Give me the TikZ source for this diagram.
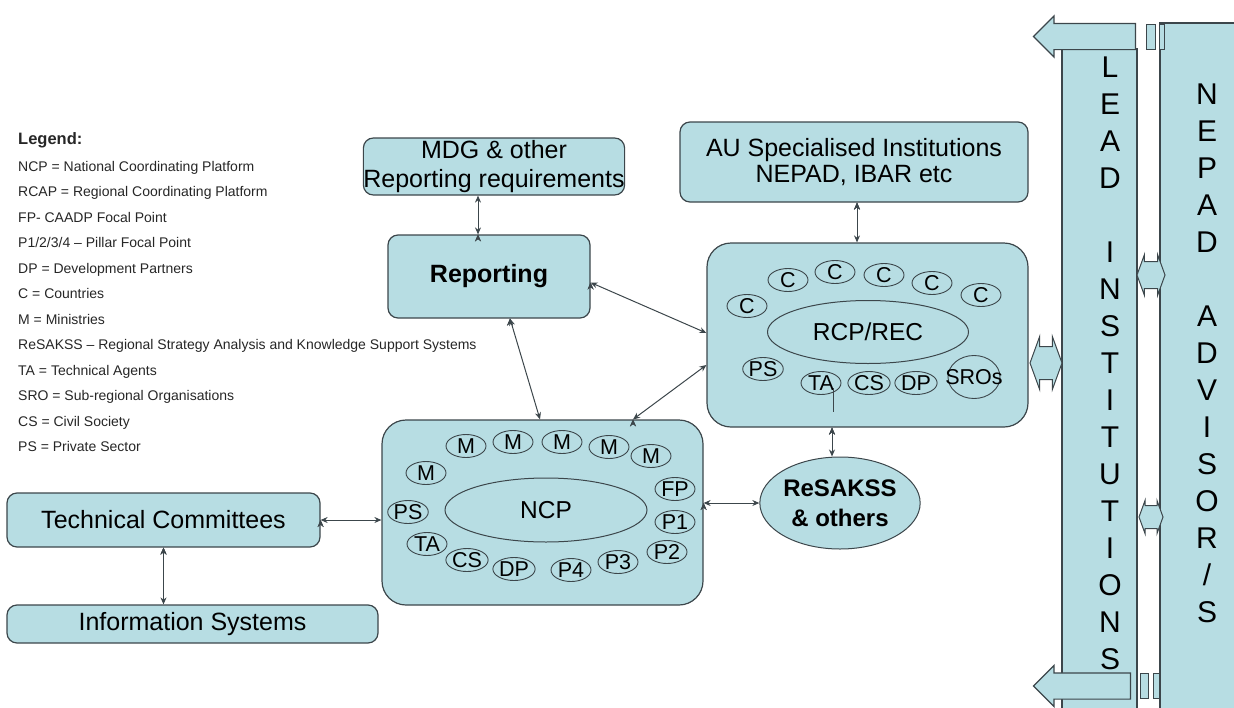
\documentclass[tikz,border=0pt]{standalone}
\usepackage{fontspec}
\setmainfont{Liberation Sans}
\usetikzlibrary{shapes.geometric,shapes.arrows,arrows.meta}
\definecolor{paleblue}{RGB}{183,221,227}
\definecolor{edgegray}{RGB}{60,70,75}

\begin{document}
\begin{tikzpicture}[x=1pt,y=-1pt]
\tikzstyle{box_style} = [draw=edgegray, line width=1.2pt, fill=paleblue, rounded corners=10pt, inner sep=0pt, font=\fontsize{25}{29}\selectfont, align=center]
\tikzstyle{hub_style} = [box_style, rounded corners=24pt]
\tikzstyle{core_style} = [draw=edgegray, line width=1pt, ellipse, fill=paleblue, inner sep=0pt, font=\fontsize{24.5}{30}\selectfont]
\tikzstyle{tok_style} = [draw=edgegray, line width=0.9pt, ellipse, inner sep=0pt, minimum width=40pt, minimum height=23pt, font=\fontsize{21.5}{23}\selectfont]
\tikzstyle{link_style} = [edgegray, line width=1pt, {Stealth[length=7pt,width=6pt]}-{Stealth[length=7pt,width=6pt]}]
\tikzstyle{legend_style} = [anchor=base west, inner sep=0pt, font=\fontsize{14}{16}\selectfont, text=black!85]
\tikzstyle{col_style} = [draw=edgegray, line width=1.2pt, fill=paleblue, inner sep=0pt]
\tikzstyle{letter_style} = [inner sep=0pt, align=center, font=\fontsize{30}{37}\selectfont]
\tikzstyle{blk_arrow} = [single arrow, shape border rotate=180, draw=edgegray, fill=paleblue, line width=1.2pt, inner xsep=0pt, inner ysep=12.5pt, single arrow head extend=7.5pt, single arrow head indent=0pt]
\tikzstyle{stripe_style} = [draw=edgegray, line width=1pt, fill=paleblue, inner sep=0pt, minimum height=25pt]
\tikzstyle{dbl_style} = [double arrow, draw=edgegray, fill=paleblue, line width=1pt, inner xsep=0pt, inner ysep=13pt, double arrow tip angle=140, double arrow head extend=7pt]
    \useasboundingbox (0,0) rectangle (1234,707);
    \clip (0,0) rectangle (1234,707);

    % legend
    \node[legend_style, font=\bfseries\fontsize{16.5}{18}\selectfont] (legtitle) at (18,144) {Legend:};
    \node[legend_style] (leg1) at (18,171) {NCP = National Coordinating Platform};
    \node[legend_style] (leg2) at (18,196.5) {RCAP = Regional Coordinating Platform};
    \node[legend_style] (leg3) at (18,222) {FP- CAADP Focal Point};
    \node[legend_style] (leg4) at (18,247.5) {P1/2/3/4 – Pillar Focal Point};
    \node[legend_style] (leg5) at (18,273) {DP = Development Partners};
    \node[legend_style] (leg6) at (18,298.5) {C = Countries};
    \node[legend_style] (leg7) at (18,324) {M = Ministries};
    \node[legend_style] (leg8) at (18,349.5) {ReSAKSS – Regional Strategy Analysis and Knowledge Support Systems};
    \node[legend_style] (leg9) at (18,375) {TA = Technical Agents};
    \node[legend_style] (leg10) at (18,400.5) {SRO = Sub-regional Organisations};
    \node[legend_style] (leg11) at (18,426) {CS = Civil Society};
    \node[legend_style] (leg12) at (18,451.5) {PS = Private Sector};

    % plain boxes
    \node[box_style, minimum width=258pt, minimum height=57pt] (mdg) at (494,166.5) {MDG \& other\\Reporting requirements};
    \node[box_style, minimum width=202pt, minimum height=83pt, font=\bfseries\fontsize{25}{29}\selectfont] (rep) at (489,276.5) {Reporting};
    \node[box_style, minimum width=348pt, minimum height=80pt, font=\fontsize{25}{26}\selectfont] (au) at (854,162) {AU Specialised Institutions\\NEPAD, IBAR etc};
    \node[box_style, minimum width=313pt, minimum height=54pt] (tc) at (163.5,520) {Technical Committees};
    \node[box_style, minimum width=371pt, minimum height=38pt] (info) at (192.5,624) {Information Systems};

    % regional platform
    \node[hub_style, minimum width=321pt, minimum height=184pt] (rcp) at (867.5,335) {};
    \node[core_style, minimum width=201pt, minimum height=63pt] (rcpcore) at (868,332) {RCP/REC};
    \node[tok_style] (rc1) at (747,306) {C};
    \node[tok_style] (rc2) at (788,280) {C};
    \node[tok_style] (rc3) at (835,272) {C};
    \node[tok_style] (rc4) at (884,275) {C};
    \node[tok_style] (rc5) at (932,283) {C};
    \node[tok_style] (rc6) at (981,295) {C};
    \node[tok_style] (rps) at (763,369) {PS};
    \node[tok_style] (rta) at (821,383) {TA};
    \node[tok_style] (rcs) at (869,383) {CS};
    \node[tok_style] (rdp) at (916,383) {DP};
    \node[tok_style, minimum width=52pt, minimum height=43pt, label={[font=\fontsize{21.5}{23}\selectfont]center:SROs}] (rsro) at (974,377) {};
    \coordinate (tatop) at (833,388);
    \coordinate (tatail) at (833,412);
    \draw[edgegray, line width=1pt] (tatop) -- (tatail);

    % national platform
    \node[hub_style, minimum width=321pt, minimum height=185pt] (ncp) at (542.5,512.5) {};
    \node[core_style, minimum width=202pt, minimum height=64pt] (ncpcore) at (546,510) {NCP};
    \node[tok_style] (m1) at (426,473) {M};
    \node[tok_style] (m2) at (466,446) {M};
    \node[tok_style] (m3) at (513,442) {M};
    \node[tok_style] (m4) at (562,442) {M};
    \node[tok_style] (m5) at (609,447) {M};
    \node[tok_style] (m6) at (651,456) {M};
    \node[tok_style] (fp) at (675,489) {FP};
    \node[tok_style] (p1) at (675,522) {P1};
    \node[tok_style] (p2) at (667,552) {P2};
    \node[tok_style] (p3) at (618,562) {P3};
    \node[tok_style] (p4) at (571,570) {P4};
    \node[tok_style] (ndp) at (514,569) {DP};
    \node[tok_style] (ncs) at (467,560) {CS};
    \node[tok_style] (nta) at (427,544) {TA};
    \node[tok_style] (nps) at (408,512) {PS};

    \node[core_style, minimum width=156pt, minimum height=92pt, align=center, font=\bfseries\fontsize{24}{30}\selectfont] (res) at (840,503) {ReSAKSS\\\& others};

    \draw[link_style] (tc.south) edge (tc.south |- info.north);
    \draw[link_style] (tc.east) edge (tc.east -| ncp.west);
    \draw[link_style] ([xshift=-11pt]rep.north) edge ([xshift=-16pt]mdg.south);
    \draw[link_style] ([xshift=21pt]rep.south) edge ([xshift=-2.5pt]ncp.north);
    \draw[link_style] ([yshift=-6pt]rep.east) edge ([yshift=2pt]rcp.west);
    \draw[link_style] ([xshift=90.5pt]ncp.north) edge ([yshift=-30pt]rcp.west);
    \draw[link_style] ([xshift=3pt]au.south) edge ([xshift=-10.5pt]rcp.north);
    \draw[link_style] ([xshift=-35.5pt]rcp.south) edge ([xshift=-8pt]res.north);
    \draw[link_style] ([yshift=9.5pt]ncp.east) edge (res.west);

    % side columns
    \node[col_style, minimum width=75pt, minimum height=670pt] (leadcol) at (1099.5,384) {};
    \node[col_style, minimum width=80pt, minimum height=700pt] (nepadcol) at (1200,373) {};
    \node[letter_style] (leadtxt) at (1110,363) {L\\E\\A\\D\\[37pt]I\\N\\S\\T\\I\\T\\U\\T\\I\\O\\N\\S};
    \node[letter_style] (nepadtxt) at (1207,353) {N\\E\\P\\A\\D\\[37pt]A\\D\\V\\I\\S\\O\\R\\/\\S};

    \node[blk_arrow, minimum height=102pt] (toparrow) at (1091,36.5) {};
    \node[stripe_style, minimum width=9pt] (tstripe1) at (1150.5,36.5) {};
    \node[stripe_style, minimum width=5pt] (tstripe2) at (1161.5,36.5) {};
    \node[blk_arrow, minimum height=97pt] (botarrow) at (1088.5,686) {};
    \node[stripe_style, minimum width=8pt] (bstripe1) at (1144,686) {};
    \node[stripe_style, minimum width=6pt] (bstripe2) at (1156,686) {};

    \node[dbl_style, minimum height=28pt] (link1) at (1151,275) {};
    \node[dbl_style, minimum height=24pt, inner ysep=11pt, double arrow head extend=5pt] (link2) at (1151,517) {};
    \node[dbl_style, minimum height=32pt, inner ysep=16pt, double arrow head extend=10pt] (link3) at (1046,363) {};
\end{tikzpicture}
\end{document}
